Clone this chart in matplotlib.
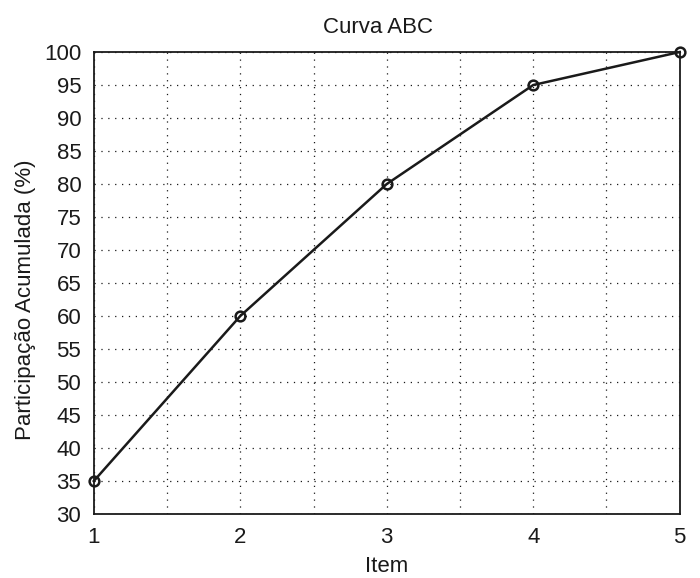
import matplotlib
matplotlib.use("Agg")
from matplotlib import pyplot as plt
import numpy as np

item = [1, 2, 3, 4, 5]
participacao = [35, 60, 80, 95, 100]
x_ticks = [1, 2, 3, 4, 5]
y_ticks = list(range(30, 101, 5))

plt.rcParams["font.family"] = ["Liberation Sans", "DejaVu Sans"]

fig = plt.figure(figsize=(7, 5.78), dpi=100)
ax = fig.add_axes([0.134, 0.1107, 0.837, 0.7993])

ax.plot(item, participacao, color="#1a1a1a", lw=1.8, marker="o", ms=7,
        mfc="none", mec="#1a1a1a", mew=1.8, clip_on=False, zorder=3)

ax.set_xlim(1, 5)
ax.set_ylim(30, 100)
ax.set_xticks(x_ticks)
ax.set_xticks(np.arange(1.5, 5, 1), minor=True)
ax.set_yticks(y_ticks)
ax.tick_params(which="both", length=0, labelsize=16, colors="#1a1a1a", pad=9)
ax.grid(True, which="both", color="#1a1a1a", linestyle=(0, (1, 4.5)), lw=0.9)
for s in ax.spines.values():
    s.set_color("#1a1a1a")
    s.set_linewidth(1.3)

ax.set_title("Curva ABC", fontsize=16, color="#1a1a1a", pad=14, x=0.485)
ax.set_xlabel("Item", fontsize=16, color="#1a1a1a", labelpad=6)
ax.set_ylabel("Participação Acumulada (%)", fontsize=16, color="#1a1a1a")
ax.yaxis.set_label_coords(-0.098, 0.463)

fig.savefig("out.png", dpi=100)
